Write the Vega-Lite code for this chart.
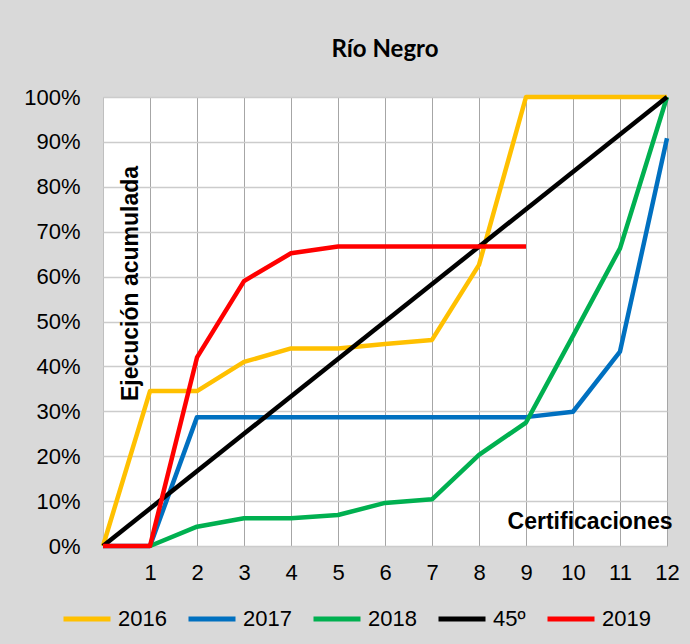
{
  "$schema": "https://vega.github.io/schema/vega-lite/v6.json",
  "width": 564,
  "height": 449,
  "autosize": "none",
  "padding": {"left": 103, "top": 97, "right": 23, "bottom": 98},
  "background": "#d9d9d9",
  "title": {"text": "Río Negro", "font": "Lato", "fontSize": 24, "fontWeight": "bold", "color": "#000000", "anchor": "middle", "offset": 24},
  "config": {
    "view": {"fill": "#ffffff", "stroke": "#bfbfbf", "strokeWidth": 1},
    "font": "Liberation Sans"
  },
  "data": {
    "values": [
      {"x": 0, "v": 0, "s": "2016"}, {"x": 1, "v": 0.345, "s": "2016"}, {"x": 2, "v": 0.345, "s": "2016"}, {"x": 3, "v": 0.41, "s": "2016"}, {"x": 4, "v": 0.44, "s": "2016"}, {"x": 5, "v": 0.44, "s": "2016"}, {"x": 6, "v": 0.45, "s": "2016"}, {"x": 7, "v": 0.459, "s": "2016"}, {"x": 8, "v": 0.626, "s": "2016"}, {"x": 9, "v": 1.0, "s": "2016"}, {"x": 10, "v": 1.0, "s": "2016"}, {"x": 11, "v": 1.0, "s": "2016"}, {"x": 12, "v": 1.0, "s": "2016"},
      {"x": 0, "v": 0, "s": "2017"}, {"x": 1, "v": 0, "s": "2017"}, {"x": 2, "v": 0.287, "s": "2017"}, {"x": 3, "v": 0.287, "s": "2017"}, {"x": 4, "v": 0.287, "s": "2017"}, {"x": 5, "v": 0.287, "s": "2017"}, {"x": 6, "v": 0.287, "s": "2017"}, {"x": 7, "v": 0.287, "s": "2017"}, {"x": 8, "v": 0.287, "s": "2017"}, {"x": 9, "v": 0.287, "s": "2017"}, {"x": 10, "v": 0.299, "s": "2017"}, {"x": 11, "v": 0.433, "s": "2017"}, {"x": 12, "v": 0.908, "s": "2017"},
      {"x": 1, "v": 0, "s": "2018"}, {"x": 2, "v": 0.043, "s": "2018"}, {"x": 3, "v": 0.062, "s": "2018"}, {"x": 4, "v": 0.062, "s": "2018"}, {"x": 5, "v": 0.069, "s": "2018"}, {"x": 6, "v": 0.096, "s": "2018"}, {"x": 7, "v": 0.104, "s": "2018"}, {"x": 8, "v": 0.203, "s": "2018"}, {"x": 9, "v": 0.275, "s": "2018"}, {"x": 10, "v": 0.468, "s": "2018"}, {"x": 11, "v": 0.663, "s": "2018"}, {"x": 12, "v": 1.0, "s": "2018"},
      {"x": 0, "v": 0, "s": "45º"}, {"x": 12, "v": 1.0, "s": "45º"},
      {"x": 0, "v": 0, "s": "2019"}, {"x": 1, "v": 0, "s": "2019"}, {"x": 2, "v": 0.42, "s": "2019"}, {"x": 3, "v": 0.59, "s": "2019"}, {"x": 4, "v": 0.652, "s": "2019"}, {"x": 5, "v": 0.667, "s": "2019"}, {"x": 6, "v": 0.667, "s": "2019"}, {"x": 7, "v": 0.667, "s": "2019"}, {"x": 8, "v": 0.667, "s": "2019"}, {"x": 9, "v": 0.667, "s": "2019"}
    ]
  },
  "mark": {"type": "line", "strokeWidth": 4.5, "strokeJoin": "round", "strokeCap": "butt"},
  "encoding": {
    "x": {
      "field": "x", "type": "quantitative",
      "scale": {"domain": [0, 12], "nice": false, "zero": false},
      "axis": {
        "values": [1, 2, 3, 4, 5, 6, 7, 8, 9, 10, 11, 12],
        "title": "Certificaciones",
        "titleFont": "Liberation Sans", "titleFontSize": 23, "titleFontWeight": "bold", "titleColor": "#000000",
        "titleAlign": "right", "titleBaseline": "alphabetic", "titleX": 569, "titleY": -18, "titleAnchor": null,
        "labelFont": "Liberation Sans", "labelFontSize": 22, "labelColor": "#000000", "labelPadding": 16,
        "labelFlush": false, "labelOverlap": false, "labelBound": false,
        "ticks": false, "domain": false,
        "grid": true, "gridColor": "#a6a6a6", "gridWidth": 1
      }
    },
    "y": {
      "field": "v", "type": "quantitative",
      "scale": {"domain": [0, 1], "nice": false},
      "axis": {
        "values": [0, 0.1, 0.2, 0.3, 0.4, 0.5, 0.6, 0.7, 0.8, 0.9, 1.0],
        "format": ".0%",
        "title": "Ejecución acumulada",
        "titleFont": "Liberation Sans", "titleFontSize": 23, "titleFontWeight": "bold", "titleColor": "#000000",
        "titleAngle": -90, "titleAlign": "center", "titleBaseline": "alphabetic", "titleX": 34, "titleY": 186,
        "labelFont": "Liberation Sans", "labelFontSize": 22, "labelColor": "#000000", "labelPadding": 23,
        "labelFlush": false, "labelOverlap": false,
        "ticks": false, "domain": false,
        "grid": true, "gridColor": "#cccccc", "gridWidth": 1.5
      }
    },
    "color": {
      "field": "s", "type": "nominal",
      "scale": {"domain": ["2016", "2017", "2018", "45º", "2019"], "range": ["#ffc000", "#0070c0", "#00b050", "#000000", "#ff0000"]},
      "legend": {
        "title": null, "orient": "none", "direction": "horizontal", "legendX": -42, "legendY": 496,
        "symbolType": "stroke", "symbolSize": 2209, "symbolStrokeWidth": 5,
        "labelFont": "Liberation Sans", "labelFontSize": 22, "labelColor": "#000000", "labelOffset": 5,
        "columnPadding": 11, "padding": 0
      }
    }
  }
}
